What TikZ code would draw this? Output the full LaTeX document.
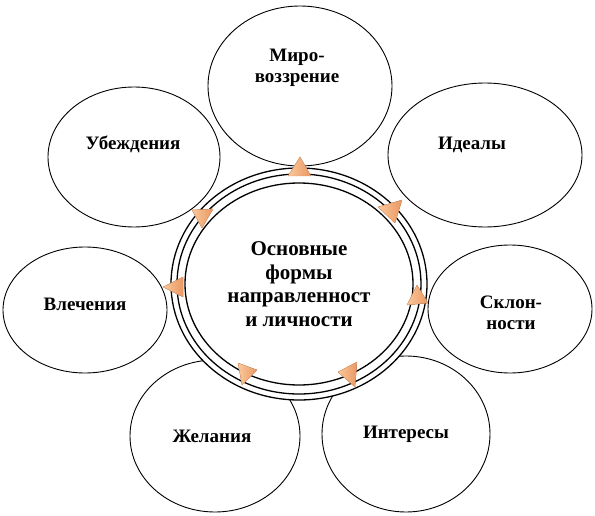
\documentclass[tikz,border=0pt]{standalone}
\usepackage{fontspec}
\setmainfont{Liberation Serif}
\usepackage{tikz}
\usetikzlibrary{positioning, shapes.geometric}

\definecolor{peachlight}{RGB}{250,200,155}
\definecolor{peachdark}{RGB}{234,152,98}

\begin{document}
\begin{tikzpicture}[
    x=1pt, y=-1pt,
    every node/.style={font=\bfseries\fontsize{19}{21.5}\selectfont, align=center},
    bubble/.style={ellipse, draw, line width=0.9pt, fill=white, inner sep=0pt},
    ring/.style={ellipse, draw, line width=1.3pt, fill=white, inner sep=0pt},
    core/.style={ring, font=\bfseries\fontsize{21}{23.5}\selectfont},
    txt/.style={inner sep=0pt},
    tip/.style={left color=peachlight, right color=peachdark, draw=peachdark, line width=0.3pt},
]
    \useasboundingbox (0,0) rectangle (595,516);

    % --- outer ellipses (clockwise from the top) ---
    \node[bubble, minimum width=184, minimum height=160] (mir) at (300,86) {};
    \node[txt] (mir-t) at ([shift={(-3,-18)}]mir.center) {Миро-\\воззрение};

    \node[bubble, minimum width=194, minimum height=144] (ideal) at (485,155) {};
    \node[txt] (ideal-t) at ([shift={(-13,-10)}]ideal.center) {Идеалы};

    \node[bubble, minimum width=164, minimum height=128] (sklon) at (510,309) {};
    \node[txt] (sklon-t) at ([shift={(1,4)}]sklon.center) {Склон-\\ности};

    \node[bubble, minimum width=168, minimum height=156] (inter) at (406,434) {};
    \node[txt] (inter-t) at (inter.center) {Интересы};

    \node[bubble, minimum width=170, minimum height=152] (zhel) at (215,436) {};
    \node[txt] (zhel-t) at ([shift={(-3,0)}]zhel.center) {Желания};

    \node[bubble, minimum width=164, minimum height=126] (vlech) at (85,310) {};
    \node[txt] (vlech-t) at ([shift={(0,-6)}]vlech.center) {Влечения};

    \node[bubble, minimum width=172, minimum height=140] (ubezh) at (134,157) {};
    \node[txt] (ubezh-t) at ([shift={(-1,-13)}]ubezh.center) {Убеждения};

    % --- double ring and centre ---
    \node[ring, minimum width=256, minimum height=232] (ring) at (299,284) {};
    \node[ring, minimum width=244, minimum height=220] (ring-in) at (299,284) {};
    \node[core, minimum width=228, minimum height=202] (core) at (299,284)
        {Основные\\формы\\направленност\\и личности};

    % --- arrow heads on the ring ---
    \filldraw[tip] (300,157) -- (288,176) -- (311,176) -- cycle; % to mir
    \filldraw[tip] (378,207) -- (402,200) -- (395,223) -- cycle; % to ideal
    \filldraw[tip] (417,285) -- (407,305) -- (428,303) -- cycle; % to sklon
    \filldraw[tip] (338,372) -- (357,362) -- (355,387) -- cycle; % to inter
    \filldraw[tip] (238,363) -- (257,370) -- (242,385) -- cycle; % to zhel
    \filldraw[tip] (163,287) -- (183,277) -- (183,297) -- cycle; % to vlech
    \filldraw[tip] (192,210) -- (213,209) -- (202,228) -- cycle; % to ubezh
\end{tikzpicture}
\end{document}
